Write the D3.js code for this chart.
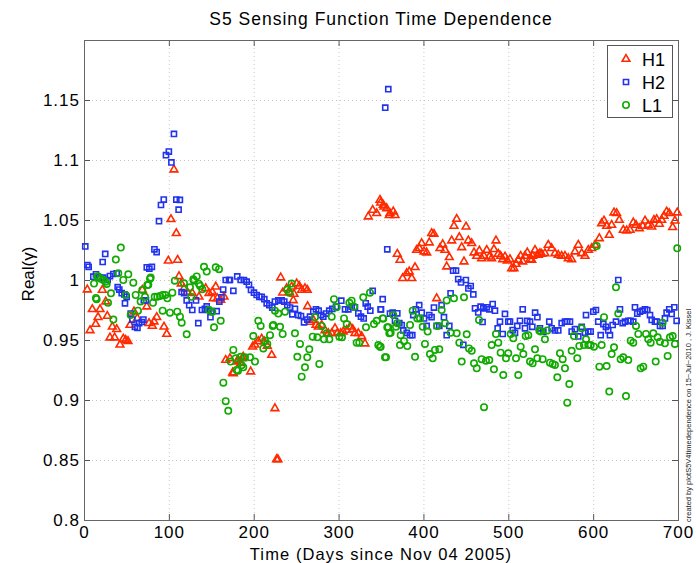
<!DOCTYPE html>
<html><head><meta charset="utf-8">
<script src="https://d3js.org/d3.v7.min.js"></script>
<style>
body{margin:0;background:#fff;}
text{font-family:"Liberation Sans",Arial,Helvetica,sans-serif;}
</style></head>
<body>
<svg id="chart" width="696" height="563"></svg>
<script>
const title = "S5 Sensing Function Time Dependence";
const xLabel = "Time (Days since Nov 04 2005)";
const yLabel = "Real(\u03b3)";
const credit = "created by plotS5V4timedependence on 15\u2212Jul\u22122010 , J. Kissel";
const xTicks = [0,100,200,300,400,500,600,700];
const yTicks = [0.8,0.85,0.9,0.95,1,1.05,1.1,1.15];
const seriesNames = ["H1","H2","L1"];

const h1Days = [3.9,7.1,9.8,13.8,16.5,18.9,21.6,25.6,27.5,30.6,33.4,36.1,38.5,42.4,46.3,49.1,51.8,54.2,58.9,62.8,68.7,73.9,76.6,80.5,82.5,85.7,94.3,97.5,99.4,102.5,106,108.8,110.3,112,114.6,117.8,121.7,127.6,135.5,143.4,147.3,151.2,152.4,155.2,157.1,161.1,165,167,172,175.2,176,180,181.8,184.6,186.5,187.7,196.4,198.7,201.5,205.4,209.4,212.5,216,221.2,225,227,228.5,231.8,234.1,238.8,242,244.7,246.6,247.5,250.6,253.7,256.5,260.4,263.1,263.5,266.3,270.2,273.4,276.1,280.1,284,287.9,291.9,295.8,298.5,302.5,305.6,309.6,313.5,316.6,319.3,323.3,327.2,331.1,335,340.2,344.9,348.8,349.6,352.7,353.5,356.7,359.8,360.6,364.5,366.5,369.2,372.4,375.5,380.3,383.3,386.2,390.1,392,395.1,397.9,400.7,403.8,406.9,409.7,412.4,415.6,419.5,422.7,425.4,427.4,430.5,433.3,436,439.2,442.3,445.1,447.8,450.2,452.9,456.9,459.6,462.8,465.9,468.6,471.4,474.6,477.6,480.4,483.1,485.5,488.2,491,493.4,496.1,498.8,502,504,506.7,509.1,511.8,514.6,517,519.7,522.4,525.6,527.6,528.7,531.5,534.2,535.4,537.3,539.3,543.2,547.1,551.1,555,558.9,562.9,566.8,570.7,574.7,578.6,582.5,586.5,590.4,594.3,598.3,602.2,607.3,610,612.8,615.9,619,621.8,624.6,627.7,630.8,635.5,639.5,643.4,647.3,650.5,654.4,658.4,661.1,665,669,671.7,674.9,678,680.8,683.5,686.6,689.7,693.7,696.4,699.1];
const h1Vals = [0.992,0.958,0.9756,0.9633,0.969,0.9756,0.9917,0.982,0.97,0.952,0.961,0.952,0.959,0.946,0.951,0.95,0.949,0.9625,0.9736,0.968,0.9917,0.9778,0.964,0.9617,0.9653,0.969,0.961,0.955,1.016,1.0506,1.092,1.0389,1.0167,1.003,0.997,0.993,0.99,0.989,0.986,0.993,0.989,0.99,0.9847,0.9944,0.9847,0.9833,0.986,0.9333,0.9347,0.9228,0.9222,0.932,0.9333,0.9306,0.9347,0.936,0.9236,0.9444,0.946,0.949,0.951,0.9486,0.945,0.9375,0.893,0.8505,0.8505,1.002,0.9894,0.993,0.99,0.9944,0.983,0.9883,0.997,0.995,0.9917,0.993,0.9917,0.978,0.965,0.9667,0.9625,0.961,0.9625,0.958,0.9556,0.9556,0.9597,0.9556,0.9556,0.957,0.9583,0.961,0.959,0.9556,0.9556,0.953,0.947,1.0528,1.0583,1.0556,1.0667,1.0644,1.0625,1.061,1.0597,1.054,1.0556,1.057,1.054,1.0217,1.0167,1.0014,1.0056,1.007,1.0014,1.0106,1.025,1.0264,1.0306,1.0236,1.0228,1.0311,1.0389,1.0383,0.9847,1.0264,1.0297,1.025,1.0111,1.0189,1.0328,1.045,1.0508,1.0356,1.0272,1.0153,1.0444,1.0328,1.0306,1.0228,1.02,1.0244,1.018,1.02,1.025,1.0194,1.018,1.0256,1.0328,1.0217,1.02,1.0172,1.0194,1.016,1.0172,1.0097,1.0097,1.0133,1.0167,1.02,1.0153,1.02,1.0228,1.0172,1.0167,1.02,1.025,1.0208,1.0208,1.0222,1.0217,1.0222,1.0292,1.0264,1.0222,1.0208,1.02,1.02,1.018,1.0172,1.0236,1.0292,1.0222,1.02,1.025,1.0264,1.0292,1.0347,1.0472,1.0494,1.045,1.0375,1.0458,1.0561,1.0556,1.05,1.0417,1.0411,1.0417,1.0478,1.0458,1.043,1.045,1.0494,1.0458,1.0444,1.05,1.0506,1.0467,1.05,1.0533,1.0569,1.0556,1.0439,1.0494,1.0561];

const h2Days = [1.5,4,5.5,11,14.1,18,22,22.7,25,27.9,30.6,34.5,38.5,39.7,41.6,44.4,47.5,48.3,50.3,55,57,60,63,65,68,70,70.5,73,74,77,80,83,85.6,88.4,90.7,94,96.6,100,103,106,108.8,111.5,113,115,118,121,124,127.6,132,134.7,139,142.5,144.6,146.5,149,150.5,156.4,159.5,162,164,167,171,172,176,180.6,184.6,188.5,191.7,194.4,196.8,200.3,203.5,206.6,209.4,212.5,215.3,218.4,221.9,225,229,233,236,239.6,242.8,245.5,248.6,252.5,255.7,259.3,263.2,266.3,270.2,273.4,276.5,279.3,282,285.2,289,292.6,297,303.2,307.6,311.5,315.4,319.3,323.3,326.4,329.6,332,334.3,337.4,340.2,349.6,350,352,355,357.4,358.6,360.6,363.7,366.5,369.2,371.6,374.4,376.3,380.3,384.2,386.9,388,391,395,398,400.7,403.8,406.9,409.6,412.4,415.6,418.7,421.4,424.2,427.4,430.5,432,435,438.4,441,444.3,447,450,453,455.7,458.8,460.8,464.6,467.4,469.7,470.6,474.6,477.7,481.6,484.3,487.5,490.2,493.4,496.1,500,502,505.2,507.9,510.6,513.8,517,519.7,522.4,525.6,528.3,531.6,534.3,537.3,541.3,548.3,551.1,555,558.9,562.9,566.8,569.5,572.7,574.7,578.6,582.5,586.5,590.4,591.6,594.3,597.1,600.2,603.3,606,608.9,612,615.1,617.8,619.8,623,626.9,629.6,631.6,634.8,637.5,641.4,644.2,647.3,649.3,652,655.2,658.4,661.1,663.8,667,669,672.9,674.9,678.8,681.9,684.6,686.6,689.7,692.5,695.6,698.4];
const h2Vals = [1.028,1.0125,1.011,1.0028,1.0047,1.0022,1.015,1.0019,1.0217,1.0,1.0033,1.005,1.0056,0.994,0.992,0.989,0.988,0.9806,0.986,0.972,0.967,0.961,0.96,0.964,0.965,0.967,0.983,0.983,1.0106,1.0094,1.011,1.0256,1.0233,1.049,1.0625,1.067,1.104,1.107,1.098,1.1217,1.067,1.0586,1.0667,0.99,0.989,0.983,0.979,0.975,0.983,0.964,0.975,0.976,0.978,0.975,0.969,0.974,0.974,0.982,0.9856,0.992,1.0,1.0,1.0,0.991,1.003,1.0,1.0,0.9986,0.996,0.9917,0.9894,0.9875,0.986,0.986,0.984,0.9806,0.979,0.977,0.982,0.983,0.983,0.982,0.979,0.977,0.9714,0.976,0.9708,0.97,0.9647,0.967,0.9694,0.9736,0.9756,0.9744,0.9708,0.9694,0.972,0.9744,0.976,0.9778,0.9828,0.9756,0.9756,0.9778,0.9772,0.9722,0.9694,0.968,0.9806,0.9778,0.9744,0.991,0.9756,0.9756,0.984,1.1436,1.0256,1.159,0.972,0.9728,0.966,0.9722,0.964,0.9625,0.958,0.956,0.954,0.954,0.9708,0.9756,0.979,0.9728,0.968,0.9617,0.9708,0.969,0.977,0.9617,0.9617,0.979,0.969,0.954,0.9617,0.9889,1.0078,1.0078,1.0008,0.998,0.946,1.0,0.993,0.995,0.988,0.9764,0.973,0.9778,0.965,0.9764,0.9772,0.9756,0.98,0.9744,0.9597,0.9653,0.955,0.9717,0.9653,0.9653,0.9583,0.956,0.9617,0.966,0.9756,0.9597,0.966,0.9653,0.961,0.9728,0.969,0.9597,0.957,0.9653,0.9597,0.958,0.958,0.964,0.9653,0.9653,0.9653,0.957,0.959,0.953,0.961,0.956,0.9708,0.957,0.957,0.9736,0.975,0.9653,0.954,0.9633,0.961,0.958,0.954,0.9625,0.9653,1.0,0.9756,0.964,0.9653,0.966,0.966,0.9653,0.9772,0.972,0.9736,0.9744,0.9756,0.975,0.9708,0.9667,0.9653,0.9653,0.9617,0.9617,0.968,0.9728,0.9756,0.9717,0.9772,0.966];

const l1Days = [11.8,14.1,14.9,15.7,16.9,19.6,22.8,25.5,26.7,28.3,31.8,34.6,37.5,40.4,43.4,46.3,49.1,52.2,55,58.1,60.9,63.6,66.7,68.7,71.9,74.6,75.8,77.8,78.6,81.3,83.3,86.4,89.6,92.7,92.7,95.8,98.2,101.3,104.1,107,109.9,113.1,115.1,117.8,121,124.9,126.4,128.8,129.6,132.8,135.5,136.8,139.4,141.4,144.6,147.3,151.2,153.2,155.2,159.1,161.1,164.2,167,170,172.8,176,178.7,179.9,181.5,184.6,185.8,187.7,189.7,195.6,199.5,201.5,205.4,208.2,211.3,213.3,216,219.2,222.4,223.1,225,229,231,234.1,236.9,239.6,242,244.7,248.6,251.4,254.5,256.5,260.4,263.1,265.5,269.5,272.2,275,277.3,280.1,282.8,286,289.1,291.9,294.6,297.8,300.9,304,306.4,309.6,312.7,315.4,318.2,321.3,324.4,329.1,332.3,337,341.7,344.9,346.8,348.8,349.6,352,352.7,354.7,355.9,357.4,358.6,359.8,361.4,364.5,367.7,369.2,372.4,373.2,377.1,381,384.2,387.3,390.1,392.8,396,399.1,401.8,405,407.7,410.9,413.6,416.3,418.7,421.5,425.4,427.4,432.1,436,439.2,442.3,445.1,447.8,451,453.7,456.9,459.6,462.8,465.5,468.6,471.4,473.7,477.6,480.4,483.1,485.5,488.2,491,494.1,497.3,500,502.8,505.9,509.1,511.8,514.6,517.7,520.5,523.6,525.6,528.7,531.5,534.2,536.5,538.1,540.5,543.2,546,549.1,552.3,555,557.8,560.9,564.1,566.8,569.5,571.9,574.7,577.4,581.3,583.7,586.5,589.2,591.6,594.3,597.1,601,604.2,607.3,610,612.8,615.9,619,621.8,624.6,626.9,629.6,632.4,635.5,638.7,641.4,644.2,647.3,650.5,653.2,656,659.1,662.3,665,667.8,670.9,673.7,676,678.8,681.9,684.6,687.8,690.5,693.7,696.4,699.1];
const l1Vals = [0.997,0.985,0.984,1.003,1.003,1.001,1.0,0.9986,0.9967,0.981,0.9889,0.967,1.017,1.0056,1.027,1.0,0.9875,1.0047,0.9708,0.9978,0.9875,0.9744,0.982,0.9917,0.986,0.9958,0.996,1.001,1.002,0.981,0.986,0.986,0.9867,0.9875,0.9744,0.9875,0.9847,0.9728,0.9894,0.9994,0.9736,0.9694,0.9644,0.9972,0.9547,0.9939,0.986,1.0006,0.9994,1.003,0.9967,0.995,0.9922,1.011,1.007,0.975,0.9736,0.9606,1.0106,1.009,0.966,0.9144,0.899,0.891,0.932,0.9417,0.9347,0.925,0.9244,0.936,0.929,0.9272,0.9356,0.9356,0.9533,0.932,0.966,0.9617,0.943,0.9494,0.9467,0.954,0.9617,0.9625,0.9744,0.972,0.961,0.955,0.9736,0.992,0.9894,0.997,0.9556,0.936,0.9467,0.9194,0.9272,0.9356,0.9422,0.9528,0.969,0.9522,0.93,0.9617,0.9506,0.9556,0.9506,0.9694,0.984,0.9772,0.9528,0.9522,0.968,0.9633,0.981,0.9828,0.9778,0.9478,0.9478,0.9856,0.9606,0.9894,0.9633,0.966,0.9458,0.9444,0.9444,0.968,0.968,0.9356,0.9356,0.9606,0.9606,0.9556,0.956,0.9708,0.961,0.964,0.9458,0.954,0.949,0.945,0.9625,0.9744,0.936,0.968,0.968,0.961,0.9467,0.957,0.9383,0.9347,0.9417,0.9617,0.9422,0.975,0.964,0.983,0.956,0.9847,0.9556,0.9478,0.932,0.9856,0.9547,0.943,0.941,0.9306,0.9264,0.9667,0.934,0.894,0.9328,0.9333,0.9458,0.9256,0.955,0.9478,0.9394,0.9208,0.9347,0.9389,0.955,0.9514,0.9347,0.9208,0.9444,0.9383,0.9533,0.954,0.932,0.9306,0.9422,0.9347,0.958,0.957,0.934,0.9506,0.958,0.9311,0.93,0.9292,0.9189,0.9389,0.934,0.9264,0.8978,0.9133,0.941,0.9533,0.9347,0.945,0.9597,0.9458,0.9506,0.9458,0.9458,0.9444,1.0283,0.9278,0.9458,0.969,0.9283,0.907,0.9383,0.9439,0.9939,0.972,0.934,0.9356,0.9033,0.9333,0.9494,0.9478,0.9617,0.955,0.9264,0.9278,0.955,0.9506,0.9478,0.9556,0.932,0.9522,0.9486,0.9644,0.9472,0.9367,0.9522,0.9533,0.9467,1.0264];

const colors = {H1:"#ff2a00", H2:"#2233ee", L1:"#11aa00"};

const svg = d3.select("#chart");
const W = 696, H = 563;
const m = {left:84, right:678, top:40, bottom:520};
const x = d3.scaleLinear().domain([0,700]).range([m.left, m.right]);
const y = d3.scaleLinear().domain([0.8,1.2]).range([m.bottom, m.top]);

svg.append("rect").attr("x",0).attr("y",0).attr("width",W).attr("height",H).attr("fill","#fff");

// grid
const grid = svg.append("g").attr("stroke","#c8c8c8").attr("stroke-width",1).attr("stroke-dasharray","1,3");
xTicks.forEach(t => { if (t>0 && t<700) grid.append("line").attr("x1",x(t)+0.5).attr("x2",x(t)+0.5).attr("y1",m.top).attr("y2",m.bottom); });
yTicks.forEach(t => { if (t>0.8) grid.append("line").attr("x1",m.left).attr("x2",m.right).attr("y1",Math.round(y(t))+0.5).attr("y2",Math.round(y(t))+0.5); });

// axes
const fmtY = d => d3.format("")(+d.toFixed(2));
const axStyle = g => { g.select(".domain").remove(); g.selectAll("line").attr("stroke","#555"); g.selectAll("text").attr("fill","#000").style("font-size","17px").style("letter-spacing","1px").attr("font-family",null); };
svg.append("g").attr("transform",`translate(0,${m.bottom})`)
  .call(d3.axisBottom(x).tickValues(xTicks).tickSizeInner(-6).tickSizeOuter(0).tickPadding(6).tickFormat(d3.format("d")))
  .call(axStyle);
svg.append("g").attr("transform",`translate(${m.left},0)`)
  .call(d3.axisLeft(y).tickValues(yTicks).tickSizeInner(-6).tickSizeOuter(0).tickPadding(4).tickFormat(fmtY))
  .call(axStyle);
svg.append("g").attr("transform",`translate(0,${m.top})`)
  .call(d3.axisTop(x).tickValues(xTicks).tickSizeInner(-6).tickSizeOuter(0).tickFormat(""))
  .call(axStyle);
svg.append("g").attr("transform",`translate(${m.right},0)`)
  .call(d3.axisRight(y).tickValues(yTicks).tickSizeInner(-6).tickSizeOuter(0).tickFormat(""))
  .call(axStyle);

// box
svg.append("rect").attr("x",m.left+0.5).attr("y",m.top+0.5).attr("width",m.right-m.left).attr("height",m.bottom-m.top)
  .attr("fill","none").attr("stroke","#666").attr("stroke-width",1);

// data
const series = [
  {name:"H1", days:h1Days, vals:h1Vals},
  {name:"H2", days:h2Days, vals:h2Vals},
  {name:"L1", days:l1Days, vals:l1Vals}
];
const symTri = d3.symbol().type(d3.symbolTriangle).size(26);
const symSq = d3.symbol().type(d3.symbolSquare).size(26);
function drawMarker(g, name, cx, cy){
  if (name==="H1") g.append("path").attr("d",symTri()).attr("transform",`translate(${cx},${cy})`).attr("fill","none").attr("stroke",colors.H1).attr("stroke-width",1.6);
  else if (name==="H2") g.append("path").attr("d",symSq()).attr("transform",`translate(${cx},${cy})`).attr("fill","none").attr("stroke",colors.H2).attr("stroke-width",1.6);
  else g.append("circle").attr("cx",cx).attr("cy",cy).attr("r",3.2).attr("fill","none").attr("stroke",colors.L1).attr("stroke-width",1.6);
}
const plot = svg.append("g");
series.forEach(s => {
  const g = plot.append("g").attr("class","series-"+s.name);
  s.days.forEach((d,i) => drawMarker(g, s.name, x(d), y(s.vals[i])));
});

// legend
const lg = svg.append("g");
lg.append("rect").attr("x",607.5).attr("y",45.5).attr("width",65).attr("height",72).attr("fill","#fff").attr("stroke","#555");
seriesNames.forEach((n,i) => {
  const cy = 59 + i*23;
  drawMarker(lg, n, 626, cy);
  lg.append("text").attr("x",642).attr("y",cy+6.5).text(n).style("font-size","18px").attr("fill","#000");
});

// title & labels
svg.append("text").attr("x",(m.left+m.right)/2).attr("y",25).attr("text-anchor","middle").style("font-size","17.5px").style("letter-spacing","1px").text(title);
svg.append("text").attr("x",(m.left+m.right)/2).attr("y",560).attr("text-anchor","middle").style("font-size","16.5px").style("letter-spacing","1.1px").text(xLabel);
svg.append("text").attr("transform",`translate(34,${(m.top+m.bottom)/2 - 6}) rotate(-90)`).attr("text-anchor","middle").style("font-size","17px").text(yLabel);
svg.append("text").attr("transform",`translate(691,522) rotate(-90)`).attr("text-anchor","start").style("font-size","7.5px").attr("fill","#222").text(credit);
</script>
</body></html>
